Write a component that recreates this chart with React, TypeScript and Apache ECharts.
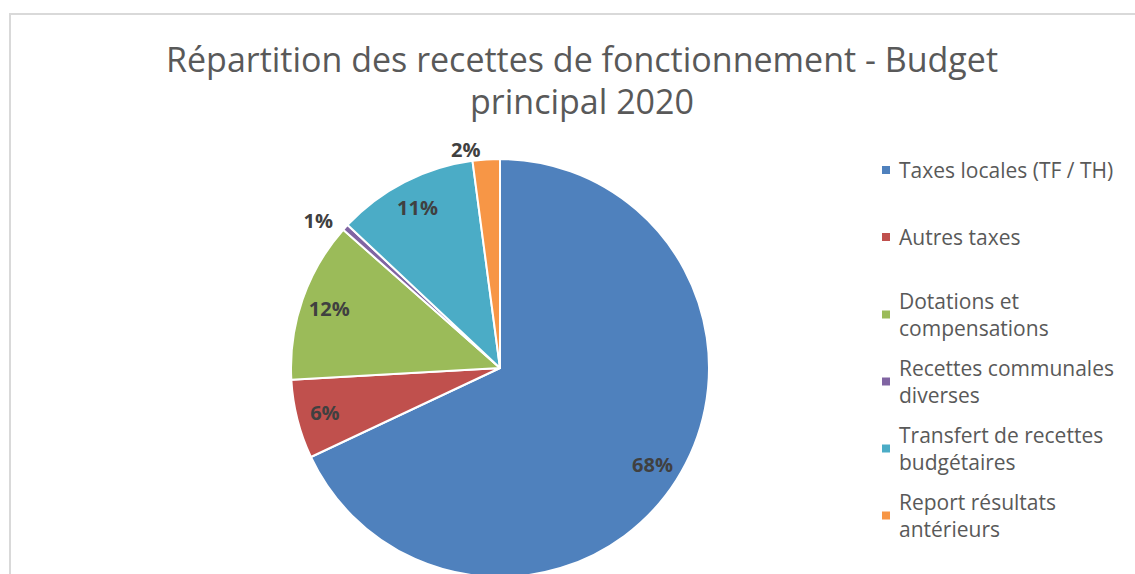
import React, { useEffect, useRef } from "react";
import * as echarts from "echarts";

const categories = [
  "Taxes locales (TF / TH)",
  "Autres taxes",
  "Dotations et compensations",
  "Recettes communales diverses",
  "Transfert de recettes budgétaires",
  "Report résultats antérieurs",
];
const legendLabels = [
  "Taxes locales (TF / TH)",
  "Autres taxes",
  "Dotations et\ncompensations",
  "Recettes communales\ndiverses",
  "Transfert de recettes\nbudgétaires",
  "Report résultats\nantérieurs",
];
const values = [68.0, 6.1, 12.4, 0.5, 10.9, 2.1];
const colors = ["#4F81BD", "#C0504D", "#9BBB59", "#8064A2", "#4BACC6", "#F79646"];
const outsideLabel = [false, false, false, true, false, true];
const legendIconCenters = [170, 237, 301, 368, 435, 502];

const TITLE = "Répartition des recettes de fonctionnement - Budget\nprincipal 2020";

export default function App() {
  const ref = useRef<HTMLDivElement>(null);
  useEffect(() => {
    document.body.style.margin = "0";
    const chart = echarts.init(ref.current!, null, { renderer: "svg" });
    const R = 209;
    const center = [500, 368];
    const fmt = (p: any) => Math.round(p.percent) + "%";
    const labelStyle = {
      fontFamily: "Open Sans",
      fontSize: 20,
      fontWeight: "bold" as const,
      color: "#404040",
    };
    const LH = 27;
    chart.setOption({
      animation: false,
      title: {
        text: TITLE,
        left: 577,
        top: 33,
        textAlign: "center",
        textStyle: {
          fontFamily: "Open Sans",
          fontSize: 34,
          fontWeight: "normal",
          color: "#595959",
          lineHeight: 42,
        },
      },
      graphic: [
        {
          type: "rect",
          shape: { x: 10, y: 14, width: 1300, height: 700 },
          style: { fill: "none", stroke: "#d9d9d9", lineWidth: 2 },
          silent: true,
        },
      ],
      legend: categories.map((c, i) => {
        const multi = legendLabels[i].includes("\n");
        return {
          orient: "vertical",
          left: 875,
          top: legendIconCenters[i] - 5 - (multi ? LH : LH / 2),
          icon: "rect",
          itemWidth: 10,
          itemHeight: 10,
          itemGap: 0,
          selectedMode: false,
          data: [{ name: c, itemStyle: { color: colors[i] } }],
          formatter: () => legendLabels[i],
          textStyle: {
            fontFamily: "Open Sans",
            fontSize: 21,
            color: "#595959",
            lineHeight: LH,
            padding: multi ? [LH, 0, 0, 3] : [0, 0, 0, 3],
          },
        };
      }),
      series: [
        {
          type: "pie",
          center,
          radius: [0, R],
          startAngle: 90,
          clockwise: true,
          silent: true,
          itemStyle: { borderColor: "#ffffff", borderWidth: 2 },
          label: {
            show: true,
            position: "outside",
            formatter: fmt,
            ...labelStyle,
          },
          labelLine: { show: false, length: 10, length2: 0 },
          data: categories.map((c, i) => ({
            name: c,
            value: values[i],
            itemStyle: { color: colors[i] },
            label: { show: outsideLabel[i] },
          })),
        },
        {
          type: "pie",
          center,
          radius: [0, R * 1.7],
          startAngle: 90,
          clockwise: true,
          silent: true,
          itemStyle: { color: "transparent", borderWidth: 0 },
          label: {
            show: true,
            position: "inside",
            formatter: fmt,
            ...labelStyle,
          },
          labelLine: { show: false },
          data: categories.map((c, i) => ({
            name: c,
            value: values[i],
            itemStyle: { color: "transparent" },
            label: { show: !outsideLabel[i] },
          })),
        },
      ],
    });
    return () => chart.dispose();
  }, []);
  return <div ref={ref} style={{ width: 1135, height: 574 }} />;
}
